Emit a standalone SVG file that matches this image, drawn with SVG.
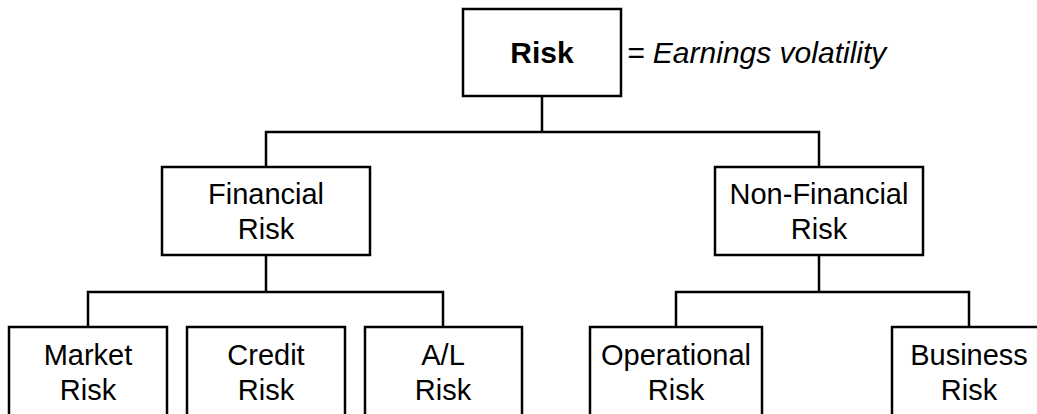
<svg xmlns="http://www.w3.org/2000/svg" width="1037" height="414" viewBox="0 0 1037 414">
<style>
.box{fill:#fff;stroke:#000;stroke-width:2.5}
.ln{fill:none;stroke:#000;stroke-width:2.5}
text{font-family:"Liberation Sans",Arial,sans-serif;font-size:29px;fill:#000;text-anchor:middle}
.b{font-weight:bold;font-size:30px}
.it{font-style:italic;text-anchor:start;font-size:30px}
</style>
<rect width="1037" height="414" fill="#fff"/>
<g id="connectors">
<path class="ln" d="M542 96V132M266 167V132H819V167"/>
<path class="ln" d="M266 255V292M88 327V292H443V327"/>
<path class="ln" d="M819 255V292M676 327V292H969V327"/>
</g>
<g id="risk"><rect class="box" x="463" y="9" width="158" height="87"/><text class="b" x="542" y="63">Risk</text></g>
<g id="definition"><text class="it" x="627" y="63">= Earnings volatility</text></g>
<g id="financial"><rect class="box" x="162" y="167" width="208" height="88"/><text x="266" y="204">Financial</text><text x="266" y="239">Risk</text></g>
<g id="nonfinancial"><rect class="box" x="715" y="167" width="208" height="88"/><text x="819" y="204">Non-Financial</text><text x="819" y="239">Risk</text></g>
<g id="market"><rect class="box" x="9" y="327" width="158" height="100"/><text x="88" y="365">Market</text><text x="88" y="400">Risk</text></g>
<g id="credit"><rect class="box" x="187" y="327" width="158" height="100"/><text x="266" y="365">Credit</text><text x="266" y="400">Risk</text></g>
<g id="al"><rect class="box" x="365" y="327" width="157" height="100"/><text x="443" y="365">A/L</text><text x="443" y="400">Risk</text></g>
<g id="operational"><rect class="box" x="590" y="327" width="172" height="100"/><text x="676" y="365">Operational</text><text x="676" y="400">Risk</text></g>
<g id="business"><rect class="box" x="892" y="327" width="156" height="100"/><text x="969" y="365">Business</text><text x="969" y="400">Risk</text></g>
</svg>
